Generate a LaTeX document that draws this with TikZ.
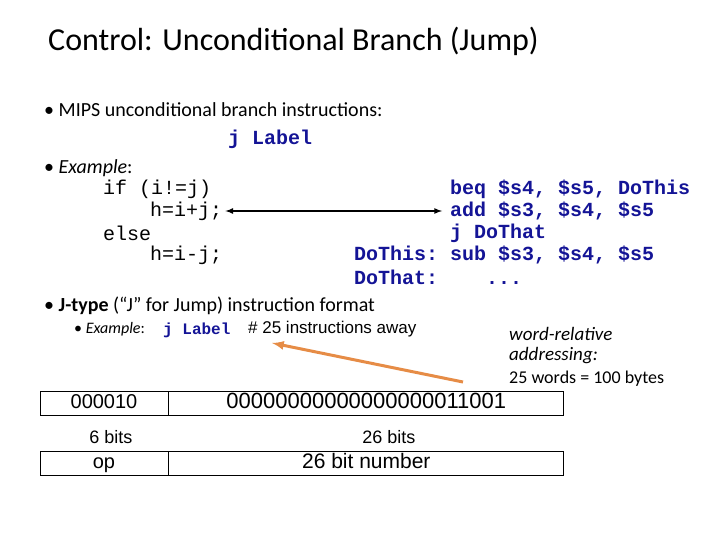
\documentclass[tikz,border=0pt]{standalone}
\usepackage{fontspec}
\setmainfont{Carlito}
\setmonofont{Liberation Mono}
\newfontfamily\arialf{Liberation Sans}
\definecolor{codeblue}{RGB}{20,20,150}
\definecolor{arrorange}{RGB}{230,140,70}
\begin{document}
\begin{tikzpicture}[x=1pt,y=-1pt,
  txt/.style={anchor=west,inner sep=0pt},
  code/.style={anchor=west,inner sep=0pt,font=\ttfamily\fontsize{20}{20}\selectfont},
  bcode/.style={code,font=\ttfamily\bfseries\fontsize{20}{20}\selectfont,text=codeblue},
  cell/.style={draw,thick,minimum height=24pt,inner sep=0pt,text height=14pt,text depth=4pt,font=\arialf\fontsize{20}{20}\selectfont}]
\useasboundingbox (0,0) rectangle (720,540);
\node[txt,font=\fontsize{32}{32}\selectfont] (title) at (48,41) {Control: Unconditional Branch (Jump)};
\node[txt,font=\fontsize{20}{20}\selectfont] (b1) at (44,110) {\textbullet\ MIPS unconditional branch instructions:};
\node[bcode] (jl) at (228,139) {j Label};
\node[txt,font=\fontsize{20}{20}\selectfont] (b2) at (44,168) {\textbullet\ \textit{Example}:};
\node[code] (c1) at (103,189) {if (i!=j)};
\node[code] (c2) at (150,211) {h=i+j;};
\node[code] (c3) at (103,233) {else};
\node[code] (c4) at (150,255) {h=i-j;};
\node[bcode] (m1) at (450,189) {beq \$s4, \$s5, DoThis};
\node[bcode] (m2) at (450,211) {add \$s3, \$s4, \$s5};
\node[bcode] (m3) at (450,233) {j DoThat};
\node[bcode] (m4) at (354,255) {DoThis: sub \$s3, \$s4, \$s5};
\node[bcode] (m5) at (354,277) {DoThat:\ \ \ \ ...};
\draw[<->,>=latex,line width=1.6pt] ([xshift=3pt]c2.east) -- ([xshift=-8pt]m2.west);
\node[txt,font=\fontsize{20}{20}\selectfont] (b3) at (44,306) {\textbullet\ \textbf{J-type} (“J” for Jump) instruction format};
\node[txt,font=\fontsize{16}{16}\selectfont] (ex) at (74,329) {\textbullet\ \textit{Example}:};
\node[bcode,font=\ttfamily\bfseries\fontsize{16}{16}\selectfont] (jl2) at (163,330) {j Label};
\node[txt,font=\arialf\fontsize{17}{17}\selectfont] (cm) at (248,329) {\# 25 instructions away};
\node[txt,font=\fontsize{19}{19}\selectfont\itshape] (wr1) at (509,334) {word-relative};
\node[txt,font=\fontsize{19}{19}\selectfont\itshape] (wr2) at (509,356) {addressing:};
\node[txt,font=\fontsize{18}{18}\selectfont] (wr3) at (509,379) {25 words = 100 bytes};
\node[cell,minimum width=128pt] (op1) at (104,403) {000010};
\node[cell,minimum width=395pt,anchor=west,font=\arialf\fontsize{22}{22}\selectfont] (ad1) at (op1.east) {00000000000000000011001};
\node[txt,font=\arialf\fontsize{18}{18}\selectfont,anchor=center] (l1) at (111,437) {6 bits};
\node[txt,font=\arialf\fontsize{18}{18}\selectfont,anchor=center] (l2) at (389,437) {26 bits};
\node[cell,minimum width=128pt] (op2) at (104,463) {op};
\node[cell,minimum width=395pt,anchor=west,font=\arialf\fontsize{21}{21}\selectfont] (ad2) at (op2.east) {26 bit number};
\coordinate (arrs) at (463,382);
\draw[->,>=latex,line width=3pt,arrorange] (arrs) -- (272,343);
\end{tikzpicture}
\end{document}
